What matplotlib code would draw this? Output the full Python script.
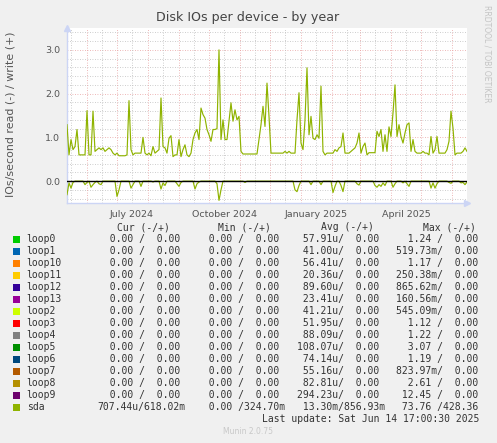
import numpy as np
import pandas as pd
import matplotlib
matplotlib.use('Agg')
import matplotlib.pyplot as plt
from matplotlib.patches import Rectangle

# sda IOs/second, one value every 2 days from 2024-05-12
sda_write = [
    1.29, 0.60, 0.95, 0.72, 0.79, 1.18, 0.60, 0.60, 0.60, 0.60,
    1.61, 0.60, 0.60, 1.60, 0.68, 0.72, 0.76, 0.72, 0.76, 0.68,
    0.72, 0.76, 0.72, 0.64, 0.60, 0.64, 0.58, 0.58, 0.58, 0.58,
    0.60, 1.84, 0.72, 0.60, 0.64, 0.64, 0.64, 0.64, 1.00, 0.64,
    0.60, 0.64, 0.58, 0.79, 0.64, 0.68, 0.72, 1.90, 0.79, 0.76,
    0.64, 0.98, 1.04, 0.56, 0.60, 0.60, 0.95, 0.56, 0.72, 0.83,
    0.60, 0.56, 0.64, 0.95, 1.10, 1.18, 0.95, 1.67, 1.52, 1.44,
    1.18, 1.06, 0.91, 1.18, 1.18, 1.20, 3.00, 0.95, 1.40, 0.95,
    0.95, 1.37, 1.79, 1.37, 1.63, 1.40, 1.48, 0.68, 0.62, 0.62,
    0.62, 0.62, 0.62, 0.62, 0.62, 0.62, 0.95, 1.29, 1.71, 1.25,
    2.24, 1.48, 0.64, 0.64, 0.64, 0.64, 0.64, 0.64, 0.64, 0.68,
    0.64, 0.68, 0.64, 0.64, 0.64, 1.40, 2.02, 0.87, 0.72, 1.40,
    2.59, 1.06, 1.48, 0.98, 0.95, 1.06, 0.98, 2.17, 0.68, 0.60,
    0.64, 0.64, 0.64, 0.64, 0.72, 0.68, 0.76, 0.79, 1.10, 0.64,
    0.64, 0.64, 0.68, 0.72, 0.76, 0.87, 1.10, 0.64, 0.79, 0.87,
    0.60, 0.65, 0.65, 0.65, 0.65, 1.14, 1.02, 1.18, 0.68, 1.06,
    0.68, 1.24, 1.02, 1.56, 2.20, 1.02, 1.29, 1.02, 0.87, 1.10,
    1.29, 1.33, 0.68, 0.95, 0.68, 0.64, 0.64, 0.64, 0.68, 0.64,
    0.64, 0.60, 1.02, 0.64, 0.72, 1.02, 0.64, 0.64, 0.64, 0.64,
    0.72, 0.91, 1.60, 1.21, 0.60, 0.64, 0.64, 0.64, 0.68, 0.76,
    0.68,
]
sda_read = [
    0.31, 0.04, 0.16, 0.03, 0, 0, 0, 0, 0, 0.08,
    0.03, 0, 0.14, 0.08, 0.03, 0, 0.06, 0.08, 0, 0,
    0, 0, 0, 0, 0, 0.35, 0.20, 0, 0, 0,
    0, 0, 0.16, 0.08, 0, 0, 0, 0.12, 0, 0,
    0, 0, 0, 0.02, 0, 0, 0, 0.18, 0.04, 0.10,
    0, 0, 0, 0, 0, 0.06, 0.12, 0.03, 0, 0,
    0, 0, 0, 0, 0.18, 0.06, 0.02, 0, 0, 0,
    0, 0, 0, 0, 0, 0.06, 0.44, 0.20, 0, 0,
    0, 0, 0, 0, 0, 0, 0, 0, 0, 0.03,
    0, 0, 0, 0, 0, 0, 0, 0, 0, 0,
    0, 0, 0, 0, 0, 0, 0, 0, 0, 0,
    0, 0, 0, 0, 0.20, 0.24, 0.10, 0, 0, 0,
    0, 0, 0.08, 0, 0, 0, 0, 0.08, 0, 0,
    0, 0, 0, 0.26, 0.12, 0, 0, 0.10, 0.24, 0,
    0, 0, 0, 0, 0, 0.06, 0.09, 0, 0, 0,
    0, 0, 0, 0, 0.10, 0.14, 0.08, 0.12, 0.04, 0.10,
    0, 0, 0, 0.14, 0.06, 0, 0, 0, 0.04, 0,
    0.06, 0.12, 0, 0, 0, 0, 0, 0, 0, 0,
    0, 0, 0.16, 0.04, 0.16, 0.06, 0, 0, 0, 0,
    0, 0.03, 0.05, 0, 0, 0, 0, 0.04, 0.03, 0.08,
    0.02,
]

# legend table
names = ['loop0', 'loop1', 'loop10', 'loop11', 'loop12', 'loop13', 'loop2', 'loop3',
         'loop4', 'loop5', 'loop6', 'loop7', 'loop8', 'loop9', 'sda']
colors = ['#00CC00', '#0066B3', '#FF8000', '#FFCC00', '#330099', '#990099', '#CCFF00', '#FF0000',
          '#808080', '#008F00', '#00487D', '#B35A00', '#B38F00', '#6B006B', '#8FB300']
cur_read = ['0.00'] * 14 + ['707.44u']
cur_write = ['0.00'] * 14 + ['618.02m']
min_read = ['0.00'] * 15
min_write = ['0.00'] * 14 + ['324.70m']
avg_read = ['57.91u', '41.00u', '56.41u', '20.36u', '89.60u', '23.41u', '41.21u', '51.95u',
            '88.09u', '108.07u', '74.14u', '55.16u', '82.81u', '294.23u', '13.30m']
avg_write = ['0.00'] * 14 + ['856.93m']
max_read = ['1.24', '519.73m', '1.17', '250.38m', '865.62m', '160.56m', '545.09m', '1.12',
            '1.22', '3.07', '1.19', '823.97m', '2.61', '12.45', '73.76']
max_write = ['0.00'] * 14 + ['428.36']

W, H = 497, 443
BG = '#F0F0F0'
TXT = '#333333'
MONO = 'DejaVu Sans Mono'

fig = plt.figure(figsize=(W / 100, H / 100), dpi=100, facecolor=BG)

# plot area: x 67..467, y 28..203 px
ax = fig.add_axes([67 / W, 1 - 203 / H, 400 / W, 175 / H])
ax.set_facecolor('white')

dates = pd.date_range('2024-05-12', periods=len(sda_write), freq='2D')
t0, t1 = pd.Timestamp('2024-05-12'), pd.Timestamp('2025-06-16')
ax.set_xlim(t0, t1)
ax.set_ylim(-0.5, 3.5)

# grid
GRID = '#bdbdbd'
MGRID = '#e8a0a0'
for v in np.arange(-0.4, 3.5, 0.2):
    if abs(v - round(v)) > 1e-6:
        ax.axhline(v, color=GRID, lw=0.6, ls=(0, (1, 2)), zorder=1)
for v in np.arange(0, 4, 1.0):
    ax.axhline(v, color=MGRID, lw=0.6, ls=(0, (1, 2)), zorder=1)
mid_months = pd.date_range('2024-05-01', '2025-06-01', freq='MS') + pd.Timedelta(days=15)
for d in mid_months:
    ax.axvline(d, color=GRID, lw=0.6, ls=(0, (1, 2)), zorder=1)
for d in pd.date_range('2024-06-01', '2025-06-01', freq='MS'):
    ax.axvline(d, color=MGRID, lw=0.6, ls=(0, (1, 2)), zorder=1)

# data
ax.plot(dates, sda_write, color='#8FB300', lw=0.85, zorder=3)
ax.plot(dates, -np.array(sda_read), color='#8FB300', lw=0.85, zorder=3)
ax.axhline(0, color='black', lw=1.0, zorder=4)

# axes look
for s in ['top', 'right']:
    ax.spines[s].set_visible(False)
for s in ['left', 'bottom']:
    ax.spines[s].set_color('#ccd5f5')
    ax.spines[s].set_linewidth(1.0)
ax.plot(1.0, 0, '>', color='#ccd5f5', ms=4, transform=ax.transAxes, clip_on=False)
ax.plot(0, 1.0, '^', color='#ccd5f5', ms=4, transform=ax.transAxes, clip_on=False)

ax.set_yticks([0, 1, 2, 3])
ax.set_yticklabels(['0.0', '1.0', '2.0', '3.0'])
ax.set_xticks([pd.Timestamp('2024-07-16'), pd.Timestamp('2024-10-16'),
               pd.Timestamp('2025-01-16'), pd.Timestamp('2025-04-16')])
ax.set_xticklabels(['July 2024', 'October 2024', 'January 2025', 'April 2025'])
ax.tick_params(length=0, labelsize=6.8, colors='#555555', pad=5)

# titles
fig.text(248 / W, 1 - 18 / H, 'Disk IOs per device - by year', ha='center', va='center',
         fontsize=9.1, color='#444444')
fig.text(11 / W, 1 - 114 / H, 'IOs/second read (-) / write (+)', ha='center', va='center',
         rotation=90, fontsize=7.9, color='#555555')
fig.text(487.5 / W, 1 - 53.5 / H, 'RRDTOOL / TOBI OETIKER', ha='center', va='center',
         rotation=270, fontsize=5.5, color='#c4c4c4')

# legend table
def pad(s):
    if not s[-1].isalpha():
        s = s + ' '
    return s.rjust(7)

col_x = [97.7, 197.3, 296.7, 396.0]
head_x = [116.7, 218.0, 320.7, 422.7]
for hx, h in zip(head_x, ['Cur (-/+)', 'Min (-/+)', 'Avg (-/+)', 'Max (-/+)']):
    fig.text(hx / W, 1 - 227.3 / H, h, ha='left', va='center', family=MONO, fontsize=7, color=TXT)

for k, name in enumerate(names):
    y = 239.3 + 12 * k
    fig.patches.append(Rectangle((13.3 / W, 1 - (y + 3.4) / H), 6.8 / W, 6.8 / H,
                                 transform=fig.transFigure, facecolor=colors[k],
                                 edgecolor='none', figure=fig))
    fig.text(26.7 / W, 1 - y / H, name, ha='left', va='center', family=MONO, fontsize=7, color=TXT)
    cells = [(cur_read[k], cur_write[k]), (min_read[k], min_write[k]),
             (avg_read[k], avg_write[k]), (max_read[k], max_write[k])]
    for cx, (r, w) in zip(col_x, cells):
        fig.text(cx / W, 1 - y / H, pad(r) + '/' + pad(w), ha='left', va='center',
                 family=MONO, fontsize=7, color=TXT)

fig.text(261.7 / W, 1 - 419.3 / H, 'Last update: Sat Jun 14 17:00:30 2025', ha='left', va='center',
         family=MONO, fontsize=7, color=TXT)
fig.text(247.7 / W, 1 - 431.7 / H, 'Munin 2.0.75', ha='center', va='center',
         fontsize=5.5, color='#c8c8c8')

fig.savefig('out.png', dpi=100, facecolor=BG)
